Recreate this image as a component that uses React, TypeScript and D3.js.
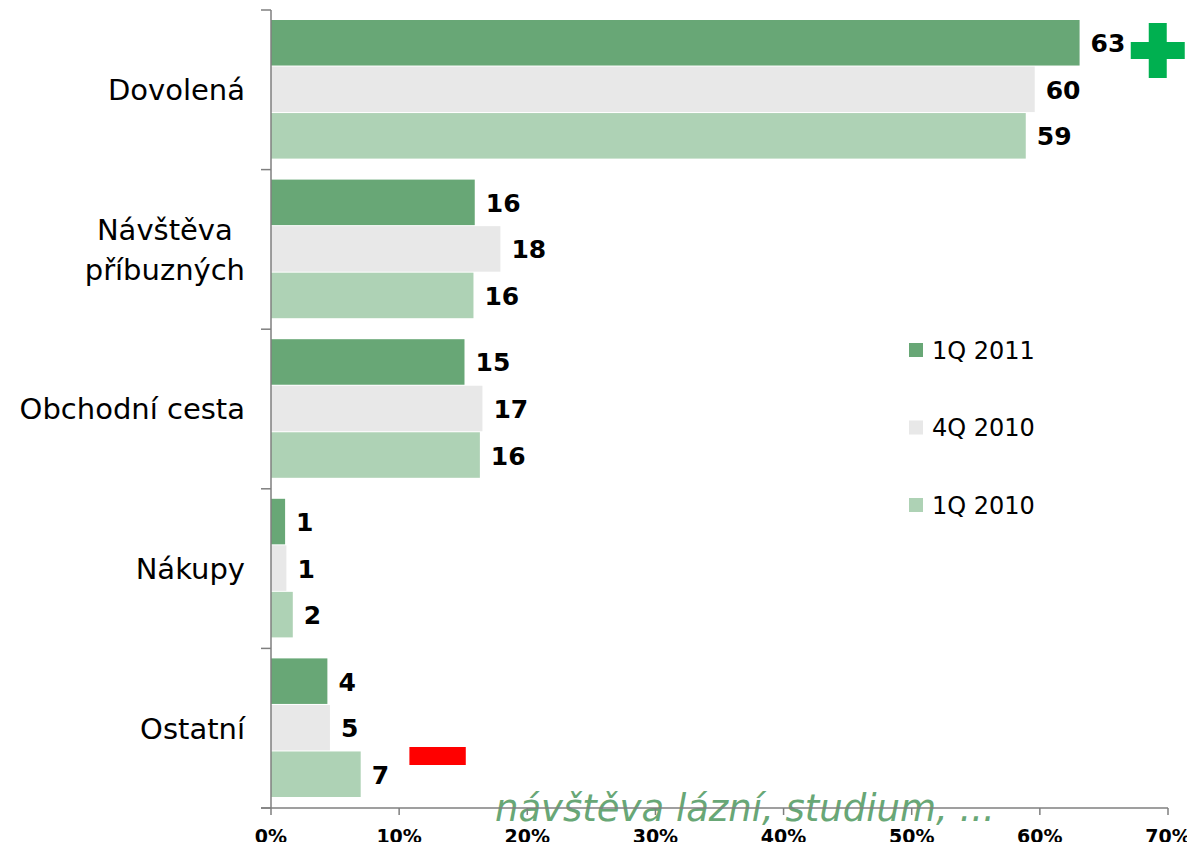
import React, { useEffect, useRef } from 'react';
import * as d3 from 'd3';

const categories = ['Dovolená', 'Návštěva\npříbuzných', 'Obchodní cesta', 'Nákupy', 'Ostatní'];
const seriesNames = ['1Q 2011', '4Q 2010', '1Q 2010'];
const series2011q1 = [63.1, 15.9, 15.1, 1.1, 4.4];
const series2010q4 = [59.6, 17.9, 16.5, 1.2, 4.6];
const series2010q1 = [58.9, 15.8, 16.3, 1.7, 7.0];
const xTicks = [0, 10, 20, 30, 40, 50, 60, 70];
const note = 'návštěva lázní, studium, ...';

const colors = ['#68a776', '#e8e8e8', '#aed2b5'];

export default function App() {
  const ref = useRef<SVGSVGElement>(null);

  useEffect(() => {
    const svg = d3.select(ref.current);
    svg.selectAll('*').remove();

    const x = d3.scaleLinear().domain([0, 70]).range([271, 1168]);
    const y = d3.scaleBand().domain(categories).range([10, 808]).padding(0);
    const inner = d3
      .scaleBand()
      .domain(seriesNames)
      .range([10, y.bandwidth() - 10])
      .padding(0);

    const allSeries = [series2011q1, series2010q4, series2010q1];
    const rows = categories.flatMap((c, i) =>
      allSeries.map((s, j) => ({ cat: c, name: seriesNames[j], value: s[i], k: j }))
    );

    const font = 'DejaVu Sans, Verdana, sans-serif';

    // bars
    svg
      .selectAll('rect.bar')
      .data(rows)
      .enter()
      .append('rect')
      .attr('class', 'bar')
      .attr('x', x(0))
      .attr('y', (d) => (y(d.cat) as number) + (inner(d.name) as number))
      .attr('width', (d) => x(d.value) - x(0))
      .attr('height', inner.bandwidth() - 1)
      .style('fill', (d) => colors[d.k]);

    // value labels
    svg
      .selectAll('text.val')
      .data(rows)
      .enter()
      .append('text')
      .attr('class', 'val')
      .attr('x', (d) => x(d.value) + 11)
      .attr('y', (d) => (y(d.cat) as number) + (inner(d.name) as number) + inner.bandwidth() / 2)
      .attr('dy', '0.36em')
      .style('font-family', font)
      .style('font-weight', 'bold')
      .style('font-size', '25px')
      .text((d) => Math.round(d.value));

    // y axis
    const axisColor = '#7f7f7f';
    svg
      .append('line')
      .attr('x1', x(0))
      .attr('x2', x(0))
      .attr('y1', 10)
      .attr('y2', 808)
      .style('stroke', axisColor)
      .style('stroke-width', 1.5);
    const yTickPos = categories.map((c) => y(c) as number).concat([808]);
    svg
      .selectAll('line.ytick')
      .data(yTickPos)
      .enter()
      .append('line')
      .attr('x1', x(0) - 10)
      .attr('x2', x(0))
      .attr('y1', (d) => d)
      .attr('y2', (d) => d)
      .style('stroke', axisColor)
      .style('stroke-width', 1.5);

    // category labels
    categories.forEach((c) => {
      const lines = c.split('\n');
      const cy = (y(c) as number) + y.bandwidth() / 2;
      const g = svg.append('text').style('font-family', font).style('font-size', '29px');
      lines.forEach((l, i) => {
        g.append('tspan')
          .attr('x', 245)
          .attr('y', cy + (i - (lines.length - 1) / 2) * 40)
          .attr('dy', '0.36em')
          .text(l);
      });
      if (lines.length > 1) {
        const w = (g.node() as SVGTextElement).getBBox().width;
        g.selectAll('tspan').attr('x', 245 - w / 2);
        g.style('text-anchor', 'middle');
      } else {
        g.style('text-anchor', 'end');
      }
    });

    // note text (drawn before x axis line)
    svg
      .append('text')
      .attr('x', 495)
      .attr('y', 821)
      .style('font-family', font)
      .style('font-style', 'italic')
      .style('font-size', '37px')
      .style('fill', '#68a776')
      .text(note);

    // x axis
    svg
      .append('line')
      .attr('x1', x(0) - 10)
      .attr('x2', x(70))
      .attr('y1', 808)
      .attr('y2', 808)
      .style('stroke', axisColor)
      .style('stroke-width', 1.5);
    svg
      .selectAll('line.xtick')
      .data(xTicks)
      .enter()
      .append('line')
      .attr('x1', (d) => x(d))
      .attr('x2', (d) => x(d))
      .attr('y1', 808)
      .attr('y2', 815)
      .style('stroke', axisColor)
      .style('stroke-width', 1.5);
    svg
      .selectAll('text.xlab')
      .data(xTicks)
      .enter()
      .append('text')
      .attr('x', (d) => x(d))
      .attr('y', 843)
      .style('text-anchor', 'middle')
      .style('font-family', font)
      .style('font-weight', 'bold')
      .style('font-size', '19px')
      .text((d) => d + '%');

    // legend
    const legend = svg
      .selectAll('g.legend')
      .data(seriesNames)
      .enter()
      .append('g')
      .attr('transform', (d, i) => 'translate(909,' + (350 + i * 77.5) + ')');
    legend
      .append('rect')
      .attr('x', 0)
      .attr('y', -7)
      .attr('width', 14)
      .attr('height', 14)
      .style('fill', (d, i) => colors[i]);
    legend
      .append('text')
      .attr('x', 23)
      .attr('dy', '0.36em')
      .style('font-family', font)
      .style('font-size', '24px')
      .text((d) => d);

    // annotations: green plus and red minus
    const px = x(69.2);
    const py = 50;
    svg
      .append('path')
      .attr(
        'd',
        `M${px - 9},${py - 27}h18v19h18v17h-18v19h-18v-19h-18v-17h18z`
      )
      .style('fill', '#00b050');
    svg
      .append('rect')
      .attr('x', x(10.8))
      .attr('y', 747)
      .attr('width', x(15.2) - x(10.8))
      .attr('height', 18)
      .style('fill', '#ff0000');
  }, []);

  return (
    <svg ref={ref} width={1195} height={850} style={{ display: 'block', margin: '-8px' }} />
  );
}
